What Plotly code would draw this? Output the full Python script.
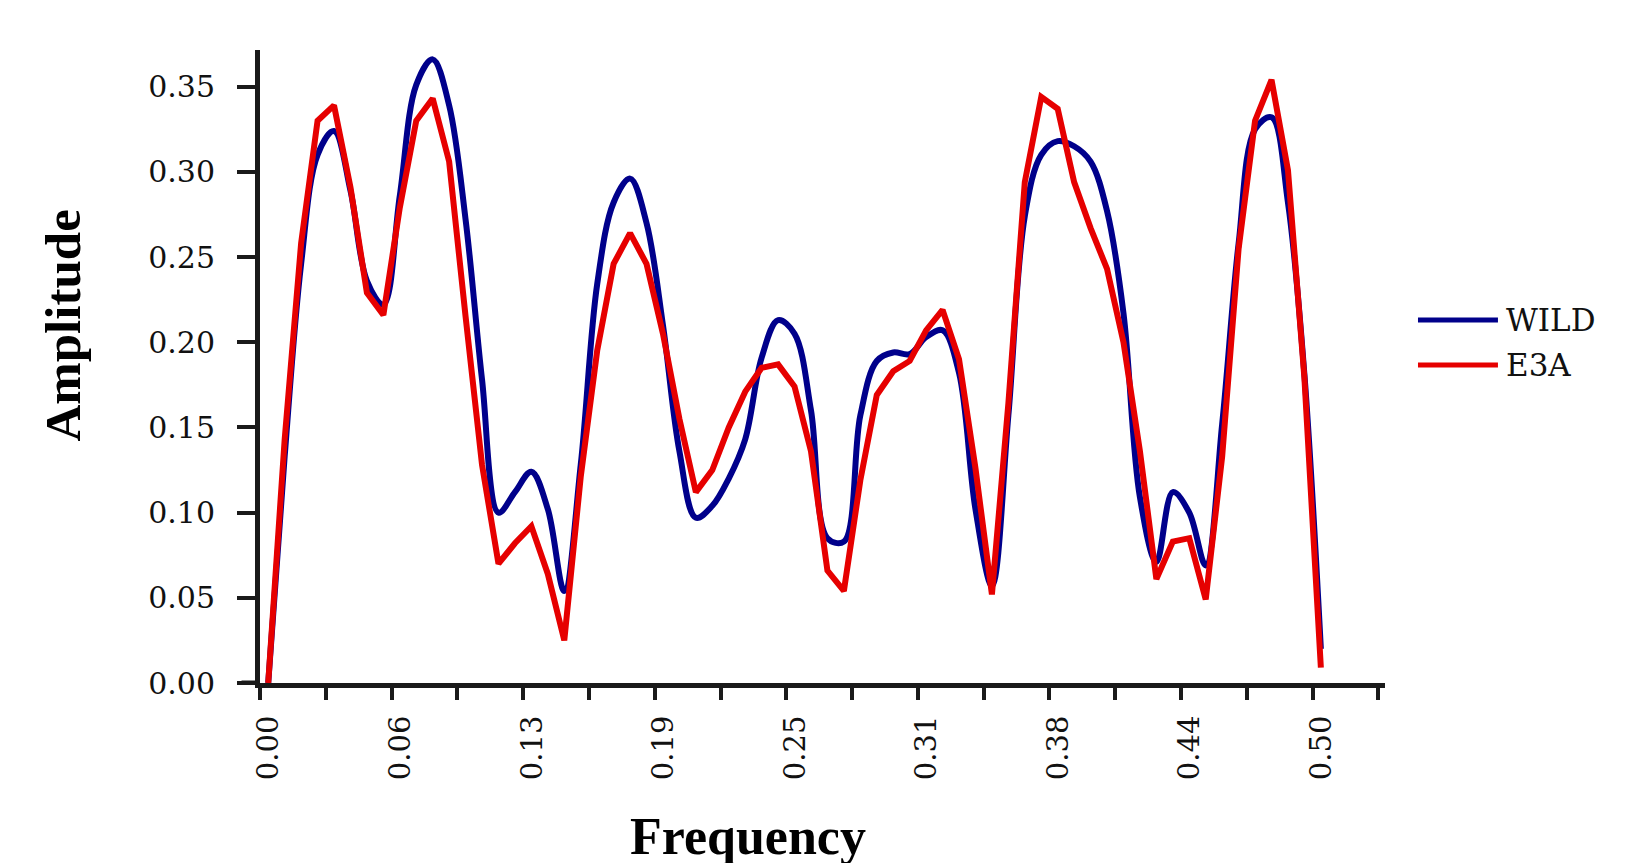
import plotly.graph_objects as go

# ---- data ----
n_points = 65
frequency = [k / 128 for k in range(n_points)]

wild = [0.000, 0.133, 0.246, 0.310, 0.324, 0.289, 0.236, 0.222, 0.286, 0.351,
        0.366, 0.339, 0.272, 0.178, 0.100, 0.112, 0.124, 0.102, 0.054, 0.128,
        0.234, 0.282, 0.296, 0.270, 0.210, 0.136, 0.097, 0.104, 0.120, 0.143,
        0.191, 0.213, 0.205, 0.160, 0.085, 0.083, 0.157, 0.189, 0.194, 0.193,
        0.203, 0.207, 0.182, 0.102, 0.057, 0.157, 0.274, 0.310, 0.318, 0.315,
        0.306, 0.277, 0.217, 0.109, 0.071, 0.112, 0.100, 0.069, 0.152, 0.258,
        0.325, 0.332, 0.282, 0.181, 0.020]

e3a = [0.000, 0.143, 0.258, 0.330, 0.339, 0.291, 0.229, 0.216, 0.279, 0.330,
       0.343, 0.306, 0.215, 0.128, 0.070, 0.082, 0.092, 0.064, 0.025, 0.121,
       0.195, 0.246, 0.264, 0.246, 0.205, 0.155, 0.112, 0.125, 0.150, 0.171,
       0.185, 0.187, 0.174, 0.136, 0.066, 0.054, 0.119, 0.169, 0.183, 0.189,
       0.207, 0.219, 0.190, 0.126, 0.052, 0.164, 0.294, 0.344, 0.337, 0.294,
       0.267, 0.243, 0.200, 0.136, 0.061, 0.083, 0.085, 0.049, 0.133, 0.255,
       0.330, 0.354, 0.301, 0.179, 0.009]

series_names = ["WILD", "E3A"]
series_colors = ["#00008B", "#E60000"]

x_tick_labels = ["0.00", "", "0.06", "", "0.13", "", "0.19", "", "0.25", "",
                 "0.31", "", "0.38", "", "0.44", "", "0.50", ""]
y_tick_values = [0.00, 0.05, 0.10, 0.15, 0.20, 0.25, 0.30, 0.35]

# tick marks sit on category boundaries every 4 points
x_tick_positions = [(4 * j - 0.5) / 128 for j in range(len(x_tick_labels))]

fig = go.Figure()
fig.add_trace(go.Scatter(x=frequency, y=wild, mode="lines", name=series_names[0],
                         line=dict(color=series_colors[0], width=6, shape="spline", smoothing=1.0),
                         showlegend=False))
fig.add_trace(go.Scatter(x=frequency, y=e3a, mode="lines", name=series_names[1],
                         line=dict(color=series_colors[1], width=6, shape="linear"),
                         showlegend=False))

W, H = 1631, 863
L, R, T, B = 251.5, 254, 42, 188
pw = W - L - R
ph = H - T - B

def px_to_paper_x(px):
    return (px - L) / pw

def px_to_paper_y(py):
    return (H - B - py) / ph

fig.update_layout(
    width=W, height=H,
    margin=dict(l=L, r=R, t=T, b=B, pad=0),
    paper_bgcolor="white", plot_bgcolor="white",
    showlegend=False,
    xaxis=dict(
        range=[-0.5 / 128, 67.9 / 128],
        tickmode="array", tickvals=x_tick_positions, ticktext=x_tick_labels,
        ticks="outside", ticklen=12, tickwidth=4, tickcolor="#1a1a1a",
        tickangle=-90, ticklabelshift=9, ticklabelstandoff=4,
        showline=True, linecolor="#1a1a1a", linewidth=5,
        showgrid=False, zeroline=False,
        tickfont=dict(family="DejaVu Serif", size=29, color="#111111"),
    ),
    yaxis=dict(
        range=[0, 0.3715],
        tickmode="array", tickvals=y_tick_values,
        ticktext=[f"{v:.2f}" for v in y_tick_values],
        ticks="outside", ticklen=18, tickwidth=4, tickcolor="#1a1a1a",
        ticklabelstandoff=16,
        showline=True, linecolor="#1a1a1a", linewidth=5,
        showgrid=False, zeroline=False,
        tickfont=dict(family="DejaVu Serif", size=30, color="#111111"),
    ),
)

# x-axis overhang to the left of the y-axis
fig.add_shape(type="line", xref="paper", yref="y",
              x0=px_to_paper_x(233), x1=0, y0=0, y1=0,
              line=dict(color="#1a1a1a", width=5))

# axis titles
fig.add_annotation(text="<b>Amplitude</b>", xref="paper", yref="paper",
                   x=px_to_paper_x(54), y=px_to_paper_y(318), textangle=-90,
                   showarrow=False, xanchor="center", yanchor="middle",
                   font=dict(family="Liberation Serif", size=51, color="black"))
fig.add_annotation(text="<b>Frequency</b>", xref="paper", yref="paper",
                   x=px_to_paper_x(740), y=px_to_paper_y(828),
                   showarrow=False, xanchor="center", yanchor="middle",
                   font=dict(family="Liberation Serif", size=52, color="black"))

# legend (drawn manually to match long legend lines)
legend_rows_px = [312, 357]
for name, color, ly in zip(series_names, series_colors, legend_rows_px):
    fig.add_shape(type="line", xref="paper", yref="paper",
                  x0=px_to_paper_x(1410), x1=px_to_paper_x(1490),
                  y0=px_to_paper_y(ly), y1=px_to_paper_y(ly),
                  line=dict(color=color, width=5))
    fig.add_annotation(text=name, xref="paper", yref="paper",
                       x=px_to_paper_x(1496), y=px_to_paper_y(ly),
                       showarrow=False, xanchor="left", yanchor="middle",
                       font=dict(family="DejaVu Serif", size=31, color="#111111"))

fig.write_html("out.html")
